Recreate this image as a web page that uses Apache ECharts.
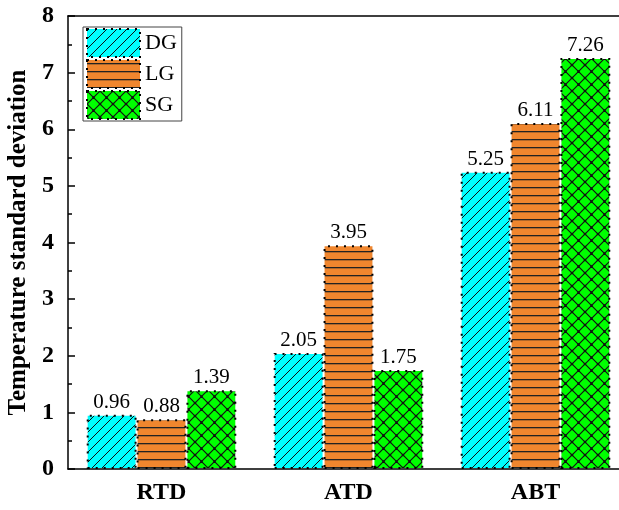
<!DOCTYPE html>
<html>
<head>
<meta charset="utf-8">
<script src="https://cdn.jsdelivr.net/npm/echarts@6/dist/echarts.min.js"></script>
<style>html,body{margin:0;padding:0;background:#fff;}#c{width:619px;height:510px;}</style>
</head>
<body>
<div id="c"></div>
<script>
const categories = ['RTD', 'ATD', 'ABT'];
const seriesNames = ['DG', 'LG', 'SG'];
const dgValues = [0.96, 2.05, 5.25];
const lgValues = [0.88, 3.95, 6.11];
const sgValues = [1.39, 1.75, 7.26];
const yTicks = [0, 1, 2, 3, 4, 5, 6, 7, 8];

function makePattern(kind) {
  const c = document.createElement('canvas');
  const ctx = c.getContext('2d');
  if (kind === 'DG') {
    c.width = 10; c.height = 10;
    ctx.fillStyle = '#00FFFF'; ctx.fillRect(0, 0, 10, 10);
    ctx.strokeStyle = '#111'; ctx.lineWidth = 1;
    ctx.beginPath();
    ctx.moveTo(-1, 11); ctx.lineTo(11, -1);
    ctx.moveTo(-6, 6); ctx.lineTo(6, -6);
    ctx.moveTo(4, 16); ctx.lineTo(16, 4);
    ctx.stroke();
  } else if (kind === 'LG') {
    c.width = 8; c.height = 8;
    ctx.fillStyle = '#F0862E'; ctx.fillRect(0, 0, 8, 8);
    ctx.fillStyle = '#222'; ctx.fillRect(0, 3, 8, 1.3);
  } else {
    const s = 13;
    c.width = s; c.height = s;
    ctx.fillStyle = '#00FF00'; ctx.fillRect(0, 0, s, s);
    ctx.strokeStyle = '#111'; ctx.lineWidth = 1.2;
    ctx.beginPath();
    ctx.moveTo(0, s); ctx.lineTo(s, 0);
    ctx.moveTo(-s / 2, s / 2); ctx.lineTo(s / 2, -s / 2);
    ctx.moveTo(s / 2, s * 1.5); ctx.lineTo(s * 1.5, s / 2);
    ctx.moveTo(0, 0); ctx.lineTo(s, s);
    ctx.moveTo(-s / 2, s / 2); ctx.lineTo(s / 2, s * 1.5);
    ctx.moveTo(s / 2, -s / 2); ctx.lineTo(s * 1.5, s / 2);
    ctx.stroke();
    ctx.fillStyle = '#111';
    [[0, 0], [s, 0], [0, s], [s, s], [s / 2, s / 2]].forEach(function (p) {
      ctx.beginPath(); ctx.arc(p[0], p[1], 1.3, 0, Math.PI * 2); ctx.fill();
    });
  }
  return { image: c, repeat: 'repeat' };
}

const FONT = 'Liberation Serif';
const chart = echarts.init(document.getElementById('c'), null, { renderer: 'canvas' });

function barSeries(name, data) {
  return {
    name: name, type: 'bar', data: data, xAxisIndex: 0, yAxisIndex: 0,
    barGap: '0%', barCategoryGap: '20%',
    itemStyle: { color: makePattern(name), borderColor: '#000', borderWidth: 2, borderType: [2, 6] },
    label: { show: true, position: 'top', distance: 2, color: '#000', fontFamily: FONT, fontSize: 21 },
    emphasis: { disabled: true }
  };
}

const axisLineStyle = { color: '#000', width: 1.5 };

chart.setOption({
  animation: false,
  backgroundColor: '#fff',
  grid: { left: 68, top: 16, width: 561, height: 453, containLabel: false, outerBoundsMode: 'none' },
  legend: {
    orient: 'vertical', left: 83, top: 27, icon: 'rect',
    itemWidth: 53, itemHeight: 28, itemGap: 1, padding: [1, 5, 1, 3],
    borderColor: '#444', borderWidth: 1,
    textStyle: { fontFamily: FONT, fontSize: 22, color: '#000' },
    itemStyle: { borderWidth: 2, borderType: [2, 6], borderColor: '#000' },
    data: seriesNames
  },
  xAxis: [
    { type: 'category', data: categories, position: 'bottom',
      axisLine: { lineStyle: axisLineStyle },
      axisTick: { alignWithLabel: true, length: 7, lineStyle: axisLineStyle },
      axisLabel: { fontFamily: FONT, fontWeight: 'bold', fontSize: 24, color: '#000', margin: 12 } },
    { type: 'category', data: categories, position: 'bottom',
      axisLine: { show: false },
      axisTick: { alignWithLabel: false, length: 4, lineStyle: axisLineStyle },
      axisLabel: { show: false } },
    { type: 'category', data: categories, position: 'top',
      axisLine: { lineStyle: axisLineStyle },
      axisTick: { alignWithLabel: true, inside: true, length: 7, lineStyle: axisLineStyle },
      axisLabel: { show: false } },
    { type: 'category', data: categories, position: 'top',
      axisLine: { show: false },
      axisTick: { alignWithLabel: false, inside: true, length: 4, lineStyle: axisLineStyle },
      axisLabel: { show: false } }
  ],
  yAxis: [
    { type: 'value', position: 'left', min: yTicks[0], max: yTicks[yTicks.length - 1], interval: 1,
      name: 'Temperature standard deviation', nameLocation: 'middle', nameGap: 36,
      nameTextStyle: { fontFamily: FONT, fontWeight: 'bold', fontSize: 25, color: '#000' },
      axisLine: { show: true, lineStyle: axisLineStyle },
      axisTick: { show: true, inside: true, length: 7, lineStyle: axisLineStyle },
      minorTick: { show: true, splitNumber: 2, length: 4, lineStyle: { color: '#000', width: 1.5 } },
      splitLine: { show: false },
      axisLabel: { fontFamily: FONT, fontWeight: 'bold', fontSize: 24, color: '#000', margin: 14 } }
  ],
  series: [
    barSeries('DG', dgValues),
    barSeries('LG', lgValues),
    barSeries('SG', sgValues)
  ]
});
</script>
</body>
</html>
